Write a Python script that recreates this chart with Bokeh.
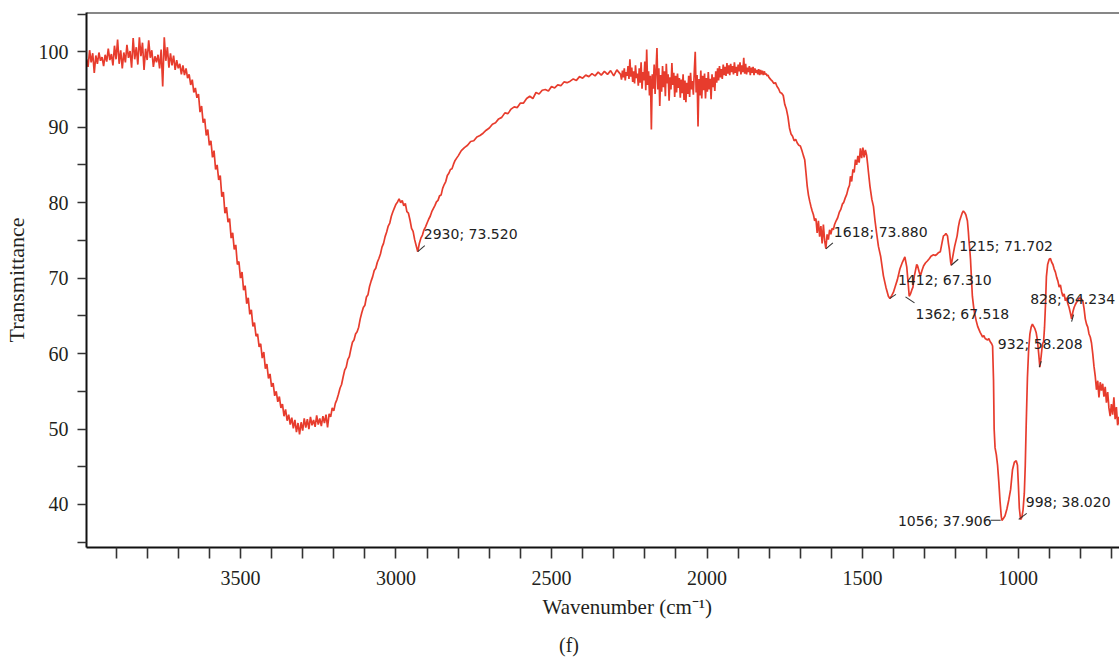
from bokeh.plotting import figure
from bokeh.models import Range1d, FixedTicker, Span, Title, ColumnDataSource, Div
from bokeh.layouts import column
from bokeh.embed import file_html
from bokeh.resources import INLINE
from bokeh.core.properties import value

# ---------------- data ----------------
plateau_wn = [3995, 3990, 3985, 3980, 3975, 3970, 3965, 3960, 3955, 3950, 3945, 3940, 3935, 3930,
              3925, 3920, 3915, 3910, 3905, 3900, 3895, 3890, 3885, 3880, 3875, 3870, 3865, 3860,
              3855, 3850, 3845, 3840, 3835, 3830, 3825, 3820, 3815, 3810, 3805, 3800, 3795, 3790,
              3785, 3780, 3775, 3770, 3765, 3760, 3755, 3750, 3745, 3740, 3735, 3730, 3725, 3720,
              3715, 3710, 3705, 3700, 3695, 3690]
plateau_t = [99.0, 98.0, 100.2, 98.6, 99.8, 97.2, 99.5, 98.4, 99.9, 98.8, 99.3, 98.1, 99.6, 98.7,
             100.4, 98.9, 99.7, 98.2, 100.8, 99.0, 101.6, 98.4, 100.2, 97.8, 99.9, 98.6, 100.9, 99.2,
             100.1, 97.9, 101.8, 99.0, 100.6, 98.3, 101.9, 99.4, 101.2, 97.6, 100.4, 98.9, 101.5, 99.2,
             100.2, 98.0, 99.4, 98.6, 99.6, 97.8, 100.3, 95.4, 101.9, 98.8, 100.6, 97.9, 99.8, 98.2,
             99.5, 97.6, 98.9, 97.8, 98.4, 97.0]

oh_wn = [3685, 3680, 3675, 3670, 3665, 3660, 3655, 3650, 3645, 3640, 3635, 3630, 3625, 3620, 3615,
         3610, 3605, 3600, 3595, 3590, 3585, 3580, 3575, 3570, 3565, 3560, 3555, 3550, 3545, 3540,
         3535, 3530, 3525, 3520, 3515, 3510, 3505, 3500, 3495, 3490, 3485, 3480, 3475, 3470, 3465,
         3460, 3455, 3450, 3445, 3440, 3435, 3430, 3425, 3420, 3415, 3410, 3405, 3400, 3395, 3390,
         3385, 3380, 3375, 3370, 3365, 3360, 3355, 3350, 3345, 3340, 3335, 3330, 3325, 3320, 3315,
         3310, 3305, 3300, 3295, 3290, 3285, 3280, 3275, 3270, 3265, 3260, 3255, 3250, 3245, 3240,
         3235, 3230, 3225, 3220, 3215, 3210, 3205, 3200, 3195, 3190, 3185, 3180, 3175, 3170, 3165,
         3160, 3155, 3150, 3145, 3140, 3135, 3130, 3125, 3120, 3115, 3110, 3105, 3100, 3095, 3090,
         3085, 3080, 3075, 3070, 3065, 3060, 3055, 3050, 3045, 3040, 3035, 3030, 3025, 3020, 3015,
         3010, 3005, 3000, 2995, 2990, 2985, 2980, 2975, 2970, 2965, 2960, 2955, 2950, 2945, 2940,
         2935, 2930, 2925, 2920, 2915, 2910, 2905, 2900, 2895, 2890, 2885, 2880, 2875, 2870]
oh_t = [98.2, 96.9, 97.8, 96.5, 97.0, 95.6, 96.3, 94.6, 95.2, 93.9, 94.4, 92.0, 92.8, 90.6, 91.1,
        88.9, 89.7, 87.6, 88.2, 86.0, 86.9, 84.4, 85.0, 83.0, 83.6, 80.8, 81.4, 78.6, 79.4, 77.4,
        77.9, 75.3, 76.0, 73.8, 74.4, 71.8, 72.2, 70.0, 70.8, 68.4, 69.0, 66.6, 67.4, 65.2, 65.8,
        63.6, 64.1, 62.3, 62.6, 60.9, 61.3, 59.4, 60.2, 58.0, 58.6, 56.7, 57.3, 55.6, 56.1, 54.4,
        55.0, 53.6, 54.3, 52.8, 53.3, 51.7, 52.6, 51.1, 51.9, 50.6, 51.5, 50.1, 51.2, 49.6, 50.8,
        49.3, 50.9, 49.8, 51.4, 50.2, 51.3, 50.0, 51.6, 50.5, 51.2, 50.3, 51.8, 50.6, 51.4, 50.4,
        51.7, 50.8, 51.9, 50.2, 52.0, 51.6, 52.8, 52.4, 53.4, 53.9, 54.6, 55.4, 55.9, 56.9, 57.8,
        58.2, 59.2, 59.6, 60.6, 61.5, 61.8, 62.6, 62.9, 63.5, 64.6, 65.4, 66.1, 66.4, 67.5, 67.8,
        68.9, 69.6, 70.2, 71.0, 71.3, 72.1, 72.6, 73.2, 74.1, 74.6, 75.5, 76.1, 76.9, 77.3, 78.2,
        78.8, 79.3, 79.8, 80.1, 80.5, 80.0, 80.3, 79.6, 79.9, 78.8, 78.6, 77.7, 76.6, 76.2, 75.1,
        74.3, 73.5, 74.6, 75.3, 75.7, 76.4, 76.8, 77.3, 77.8, 78.2, 78.8, 79.2, 79.6, 80.1]

rise_wn = [2865, 2860, 2855, 2850, 2845, 2840, 2835, 2830, 2825, 2820, 2815, 2810, 2805, 2800, 2790,
           2780, 2770, 2760, 2750, 2740, 2730, 2720, 2710, 2700, 2690, 2680, 2670, 2660, 2650, 2640,
           2630, 2620, 2610, 2600, 2590, 2580, 2570, 2560, 2550, 2540, 2530, 2520, 2510, 2500, 2490,
           2480, 2470, 2460, 2450, 2440, 2430, 2420, 2410, 2400, 2390, 2380, 2370, 2360, 2350, 2340,
           2330, 2320, 2310, 2300, 2290, 2280]
rise_t = [80.3, 80.9, 81.0, 81.9, 82.4, 82.8, 83.6, 83.9, 84.4, 84.5, 85.1, 85.6, 85.9, 86.2, 86.9,
          87.3, 87.6, 88.1, 88.2, 88.7, 88.9, 89.2, 89.6, 89.9, 90.4, 90.6, 91.1, 91.3, 91.9, 91.8,
          92.4, 92.7, 92.6, 93.2, 93.2, 93.8, 94.1, 93.8, 94.6, 94.4, 94.9, 95.0, 94.8, 95.4, 95.2,
          95.6, 95.5, 96.0, 95.9, 96.1, 96.4, 96.2, 96.7, 96.5, 96.9, 96.7, 97.1, 96.8, 97.3, 96.9,
          97.4, 97.0, 97.5, 96.8, 97.6, 97.1]

noisy_wn = [2278, 2275, 2272, 2269, 2266, 2263, 2260, 2257, 2254, 2251,
            2248, 2245, 2242, 2239, 2236, 2233, 2230, 2227, 2224, 2221,
            2218, 2215, 2212, 2209, 2206, 2203, 2200, 2197, 2194, 2191,
            2188, 2185, 2182, 2179, 2176, 2173, 2170, 2167, 2164, 2161,
            2158, 2155, 2152, 2149, 2146, 2143, 2140, 2137, 2134, 2131,
            2128, 2125, 2122, 2119, 2116, 2113, 2110, 2107, 2104, 2101,
            2098, 2095, 2092, 2089, 2086, 2083, 2080, 2077, 2074, 2071,
            2068, 2065, 2062, 2059, 2056, 2053, 2050, 2047, 2044, 2041,
            2038, 2035, 2032, 2029, 2026, 2023, 2020, 2017, 2014, 2011,
            2008, 2005, 2002, 1999, 1996, 1993, 1990, 1987, 1984, 1981,
            1978, 1975, 1972, 1969, 1966, 1963, 1960, 1957, 1954, 1951,
            1948, 1945, 1942, 1939, 1936, 1933, 1930, 1927, 1924, 1921,
            1918, 1915, 1912, 1909, 1906, 1903, 1900, 1897, 1894, 1891,
            1888, 1885, 1882, 1879, 1876, 1873, 1870, 1867, 1864, 1861,
            1858, 1855, 1852, 1849, 1846, 1843, 1840, 1837, 1834, 1831,
            1828, 1825, 1822, 1819, 1816, 1813, 1810, 1807, 1804, 1801]
noisy_t = [97.0, 96.3, 97.5, 96.6, 97.8, 96.2, 97.3, 96.8, 98.1, 96.4,
           99.0, 96.7, 97.9, 96.0, 97.4, 95.8, 98.2, 96.5, 97.1, 95.5,
           97.8, 95.9, 98.6, 95.1, 97.3, 96.2, 98.7, 94.9, 100.3, 95.6,
           97.4, 94.2, 96.8, 89.7, 97.0, 95.1, 98.3, 94.4, 97.6, 100.5,
           95.0, 97.8, 92.8, 96.9, 94.7, 98.1, 95.3, 97.4, 94.1, 98.4,
           95.8, 97.0, 93.5, 96.6, 95.0, 98.5, 95.6, 97.2, 94.0, 96.8,
           94.6, 97.1, 95.2, 96.5, 93.9, 96.3, 94.5, 97.0, 93.6, 96.2,
           93.3, 95.9, 94.4, 96.8, 94.0, 97.2, 95.0, 96.1, 94.3, 97.4,
           100.0, 94.6, 96.9, 90.1, 96.4, 94.2, 97.5, 93.8, 96.8, 94.9,
           97.1, 93.8, 96.5, 94.7, 97.3, 95.0, 96.4, 93.7, 97.0, 95.3,
           96.6, 94.8, 97.4, 95.9, 97.8, 96.2, 98.1, 96.6, 97.7, 96.4,
           98.3, 96.9, 98.0, 96.8, 98.5, 97.1, 98.2, 96.9, 98.4, 97.3,
           98.1, 97.0, 98.6, 97.2, 98.0, 96.8, 98.3, 97.4, 98.6, 97.0,
           98.2, 97.3, 99.2, 97.1, 98.4, 97.0, 97.9, 97.3, 98.1, 96.9,
           97.9, 97.2, 98.0, 96.9, 97.8, 97.2, 97.6, 97.0, 97.7, 96.9,
           97.6, 97.0, 97.5, 96.9, 97.4, 97.0, 97.1, 96.8, 96.9, 96.6]

finger_wn = [1795, 1790, 1785, 1780, 1775, 1770, 1765, 1760, 1755, 1750, 1745, 1740, 1735, 1730, 1725,
             1720, 1715, 1710, 1705, 1700, 1695, 1690, 1686, 1682, 1678, 1674, 1670, 1666, 1662, 1658,
             1654, 1650, 1646, 1642, 1638, 1634, 1630, 1626, 1622, 1618, 1614, 1610, 1606, 1602, 1598,
             1594, 1590, 1585, 1580, 1575, 1570, 1565, 1561, 1556, 1551, 1546, 1542, 1539, 1535, 1531,
             1527, 1523, 1519, 1515, 1511, 1507, 1503, 1499, 1495, 1491, 1487, 1484, 1481, 1476, 1470,
             1465, 1460, 1455, 1449, 1442, 1433, 1425, 1417, 1412, 1406, 1401, 1395, 1388, 1380, 1372,
             1364, 1358, 1354, 1350, 1346, 1342, 1338, 1334, 1330, 1326, 1323, 1318, 1314, 1309, 1304,
             1298, 1291, 1285, 1280, 1272, 1266, 1260, 1255, 1250, 1244, 1240, 1236, 1232, 1227, 1224,
             1221, 1217, 1215, 1212, 1208, 1204, 1200, 1196, 1192, 1188, 1184, 1180, 1176, 1172, 1168,
             1163, 1160, 1158, 1155, 1153, 1150, 1147, 1143, 1140, 1135, 1130, 1126, 1122, 1118, 1114,
             1110, 1106, 1102, 1098, 1094, 1090, 1085, 1082]
finger_t = [96.3, 96.1, 95.8, 95.9, 95.4, 95.1, 94.6, 94.5, 94.2, 93.0, 92.4, 91.4, 89.9, 89.1, 88.8,
            88.2, 88.4, 87.9, 87.6, 87.5, 86.9, 86.2, 85.7, 84.0, 82.2, 81.0, 80.2, 79.5, 78.9, 78.4,
            77.6, 77.9, 76.0, 77.6, 75.5, 76.9, 74.6, 77.1, 75.0, 73.9, 75.8, 75.1, 76.4, 75.8, 76.6,
            76.4, 77.1, 77.6, 78.0, 78.7, 79.1, 79.8, 80.0, 80.6, 81.1, 81.9, 82.3, 83.5, 82.8, 84.4,
            84.0, 85.7, 85.0, 86.2, 85.3, 87.2, 85.9, 87.3, 86.0, 87.0, 86.3, 85.2, 84.0, 82.1, 80.4,
            79.5, 77.6, 76.0, 74.2, 72.9, 70.3, 68.8, 67.6, 67.3, 67.7, 68.1, 68.9, 69.8, 71.2, 72.1,
            72.8, 71.5, 69.6, 67.6, 67.9, 68.4, 68.8, 70.2, 71.0, 71.8, 71.6, 70.8, 70.3, 71.0, 71.6,
            72.0, 72.3, 72.6, 72.9, 73.1, 73.0, 73.2, 73.4, 73.5, 74.8, 75.6, 75.7, 75.9, 75.6, 74.6,
            73.8, 72.2, 71.7, 72.4, 73.3, 74.2, 74.9, 75.6, 76.8, 77.6, 78.1, 78.6, 78.9, 78.7, 78.4,
            77.6, 76.2, 75.0, 73.6, 72.5, 70.0, 67.6, 66.2, 65.4, 64.4, 63.6, 63.2, 62.8, 62.5, 62.2,
            62.4, 62.0, 61.9, 61.8, 62.0, 61.6, 61.3, 61.0]

low_wn = [1079, 1077, 1074, 1070, 1066, 1062, 1058, 1054, 1052, 1048, 1042, 1036, 1030, 1024, 1018,
          1012, 1006, 1002, 999, 996, 992, 988, 984, 980, 977, 974, 970, 966, 962, 958,
          954, 950, 946, 942, 938, 934, 930, 926, 922, 918, 915, 912, 909, 905, 900,
          896, 892, 888, 884, 880, 876, 872, 868, 864, 860, 856, 852, 848, 844, 840,
          836, 832, 828, 824, 820, 816, 812, 808, 804, 800, 796, 792, 788, 784, 780,
          776, 772, 768, 764, 760, 756, 752, 748, 744, 740, 736, 732, 728, 724, 720,
          716, 712, 708, 704, 700, 696, 692, 688, 684, 680, 676, 672]
low_t = [56.5, 50.0, 47.5, 46.6, 45.2, 43.0, 40.4, 38.4, 37.9, 38.1, 38.5, 39.4, 40.6, 42.0, 44.6,
         45.6, 45.8, 45.2, 42.5, 39.5, 38.0, 38.3, 39.3, 41.5, 45.1, 50.5, 56.8, 60.6, 62.6, 63.5,
         63.9, 63.6, 63.3, 62.8, 61.8, 60.1, 58.2, 59.6, 61.2, 61.6, 63.5, 66.4, 70.2, 71.8, 72.5,
         72.6, 72.1, 71.8, 71.2, 70.8, 70.1, 69.6, 68.8, 69.1, 68.2, 67.6, 67.9, 67.0, 67.4, 66.6,
         66.1, 65.4, 64.6, 65.5, 66.1, 66.5, 66.8, 67.0, 67.3, 67.4, 67.2, 67.0, 66.0, 64.6, 63.9,
         63.5, 62.6, 62.2, 61.4, 60.0, 58.3, 57.0, 55.2, 56.4, 54.2, 56.2, 55.1, 56.0, 54.3, 55.6,
         53.5, 54.9, 52.8, 51.7, 53.3, 51.9, 54.2, 51.3, 52.9, 50.5, 51.6, 50.2]

# peak annotations
peak_wn = [2930, 1618, 1412, 1362, 1215, 828, 932, 1056, 998]
peak_t = [73.520, 73.880, 67.310, 67.518, 71.702, 64.234, 58.208, 37.906, 38.020]

# axis ticks
x_major = [1000, 1500, 2000, 2500, 3000, 3500]
x_minor = [700, 800, 900, 1100, 1200, 1300, 1400, 1600, 1700, 1800, 1900, 2100, 2200, 2300, 2400,
           2600, 2700, 2800, 2900, 3100, 3200, 3300, 3400, 3600, 3700, 3800, 3900]
y_major = [40, 50, 60, 70, 80, 90, 100]
y_minor = [35, 45, 55, 65, 75, 85, 95, 105]

# ---------------- layout / style ----------------
X_START, X_END = 3995, 674
Y_START, Y_END = 34.3, 105.2
W, H = 1119, 630          # chart part; a 30 px caption strip goes below it
CAP_H = 30
BL, BR, BT, BB = 86, 0, 12, 83

SERIF = "Liberation Serif"
TXT = "#231f20"
RED = "#e63222"

wn = plateau_wn + oh_wn + rise_wn + noisy_wn + finger_wn + low_wn
tr = plateau_t + oh_t + rise_t + noisy_t + finger_t + low_t

p = figure(width=W, height=H, output_backend="svg", toolbar_location=None,
           x_range=Range1d(X_START, X_END), y_range=Range1d(Y_START, Y_END),
           min_border_left=BL, min_border_right=BR, min_border_top=BT, min_border_bottom=BB)
p.outline_line_color = None
p.xgrid.visible = False
p.ygrid.visible = False
p.background_fill_color = "white"
p.border_fill_color = "white"

p.line(wn, tr, line_color=RED, line_width=1.7, line_alpha=0.95)

# axes
xa = p.xaxis[0]
xa.ticker = FixedTicker(ticks=x_major, minor_ticks=x_minor)
ya = p.yaxis[0]
ya.ticker = FixedTicker(ticks=y_major, minor_ticks=y_minor)
for ax, tout, stand in ((xa, 11, 12), (ya, 9, 9)):
    ax.axis_line_width = 2
    ax.axis_line_color = "#111111"
    ax.major_tick_in = 0
    ax.minor_tick_in = 0
    ax.major_tick_out = tout
    ax.minor_tick_out = tout
    ax.major_tick_line_width = 1.6
    ax.minor_tick_line_width = 1.6
    ax.major_tick_line_color = "#333333"
    ax.minor_tick_line_color = "#333333"
    ax.major_label_text_font = SERIF
    ax.major_label_text_font_size = "20px"
    ax.major_label_text_color = TXT
    ax.major_label_standoff = stand

ya.axis_label = "Transmittance"
ya.axis_label_text_font = SERIF
ya.axis_label_text_font_size = "22px"
ya.axis_label_text_font_style = "normal"
ya.axis_label_text_color = TXT
ya.axis_label_standoff = 7

# top border
p.add_layout(Span(location=Y_END, dimension="width", line_color="#111111", line_width=2))

# x-axis title (left-aligned with a pixel offset from the frame's left edge)
t1 = Title(text="Wavenumber (cm\u207b\u00b9)", align="left", offset=456, text_font=SERIF,
           text_font_size="21px", text_font_style="normal", text_color=TXT, standoff=11)
p.add_layout(t1, "below")

# pixel <-> data scale of the frame
px_per_wn = (W - BL - BR) / (X_START - X_END)
px_per_t = (H - BT - BB) / (Y_END - Y_START)

# annotations
labels = ["%d; %.3f" % (a, b) for a, b in zip(peak_wn, peak_t)]
mark_dx = [7, 7, 6, 9, 7, 2, 2, -10, 8]
mark_dy = [-6, -6, -4, 6, -6, -7, -6, 0, -6]
text_dx = [6, 8, 8, 10, 8, 1, 1, -9, 7]
text_dy = [-18, -17, -18, 17, -19, -23, -23, 1, -17]
aligns = ["left", "left", "left", "left", "left", "center", "center", "right", "left"]

x1 = [w - dx / px_per_wn for w, dx in zip(peak_wn, mark_dx)]
y1 = [t - dy / px_per_t for t, dy in zip(peak_t, mark_dy)]
p.segment(x0=peak_wn, y0=peak_t, x1=x1, y1=y1, line_color="#333333", line_width=1.1)

for al in ("left", "center", "right"):
    idx = [i for i, a in enumerate(aligns) if a == al]
    src = ColumnDataSource(dict(
        x=[peak_wn[i] for i in idx], y=[peak_t[i] for i in idx],
        text=[labels[i] for i in idx],
        dx=[text_dx[i] for i in idx], dy=[text_dy[i] for i in idx]))
    p.text(x="x", y="y", text="text", x_offset="dx", y_offset="dy", source=src,
           text_align=al, text_baseline="middle", text_font=value("DejaVu Sans"),
           text_font_size="14px", text_color="#222222")

# panel caption strip below the chart
cap = Div(text="(f)", width=W, height=CAP_H, margin=0,
          styles={"font-family": SERIF, "font-size": "20px", "line-height": "20px",
                  "color": TXT, "padding-left": "559px", "padding-top": "5px",
                  "box-sizing": "border-box"})

layout = column(p, cap, spacing=0)
open("out.html", "w").write(file_html(layout, INLINE))
